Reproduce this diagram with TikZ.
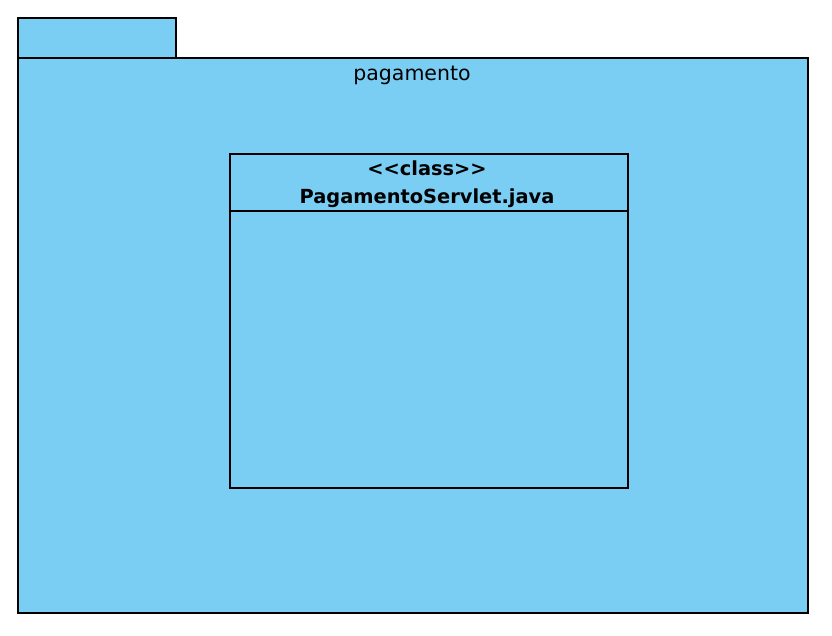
\documentclass[tikz,border=0pt]{standalone}
\usepackage{fontspec}
\setmainfont{DejaVu Sans}
\definecolor{pkgblue}{HTML}{7ACEF4}
\begin{document}
\begin{tikzpicture}[x=1pt,y=-1pt,
  shape box/.style={draw=black,fill=pkgblue,line width=1.3pt},
  pkgtext/.style={font=\fontsize{20.5}{24}\selectfont,inner sep=0pt,anchor=base},
  clstext/.style={font=\fontsize{19.4}{23}\selectfont\bfseries,inner sep=0pt,anchor=base}]
\useasboundingbox (0,0) rectangle (832,636);
\draw[shape box] (18,18) rectangle (176,58);
\draw[shape box] (18,58) rectangle (808,613);
\node[pkgtext] (pkgname) at (412,81) {pagamento};
\draw[shape box] (230,154) rectangle (628,488);
\draw[line width=1.3pt] (230,211) -- (628,211);
\node[clstext] (stereo) at (427,176) {{<}{<}class{>}{>}};
\node[clstext] (clsname) at (427,204) {PagamentoServlet.java};
\end{tikzpicture}
\end{document}
